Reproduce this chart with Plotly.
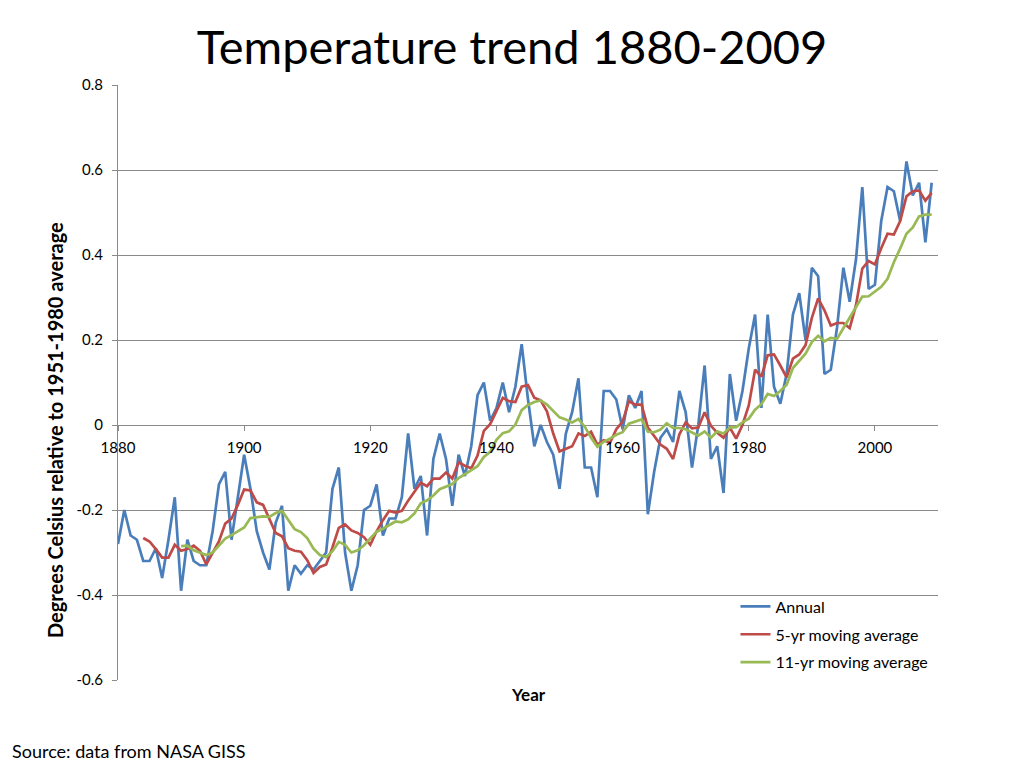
import plotly.graph_objects as go

# GISS annual anomalies, degrees C relative to 1951-1980
years = list(range(1880, 2010))
annual = [
    -0.28, -0.20, -0.26, -0.27, -0.32, -0.32, -0.29, -0.36, -0.27, -0.17,
    -0.39, -0.27, -0.32, -0.33, -0.33, -0.25, -0.14, -0.11, -0.27, -0.17,
    -0.07, -0.15, -0.25, -0.30, -0.34, -0.23, -0.19, -0.39, -0.33, -0.35,
    -0.33, -0.34, -0.32, -0.30, -0.15, -0.10, -0.30, -0.39, -0.33, -0.20,
    -0.19, -0.14, -0.26, -0.22, -0.22, -0.17, -0.02, -0.15, -0.12, -0.26,
    -0.08, -0.02, -0.08, -0.19, -0.07, -0.12, -0.05, 0.07, 0.10, 0.01,
    0.04, 0.10, 0.03, 0.09, 0.19, 0.06, -0.05, 0.00, -0.04, -0.07,
    -0.15, -0.02, 0.03, 0.11, -0.10, -0.10, -0.17, 0.08, 0.08, 0.06,
    -0.01, 0.07, 0.04, 0.08, -0.21, -0.11, -0.03, -0.01, -0.04, 0.08,
    0.03, -0.10, 0.00, 0.14, -0.08, -0.05, -0.16, 0.12, 0.01, 0.08,
    0.18, 0.26, 0.04, 0.26, 0.09, 0.05, 0.12, 0.26, 0.31, 0.20,
    0.37, 0.35, 0.12, 0.13, 0.23, 0.37, 0.29, 0.39, 0.56, 0.32,
    0.33, 0.48, 0.56, 0.55, 0.48, 0.62, 0.54, 0.57, 0.43, 0.57,
]

# 5-yr moving average, 1884-2009
ma5_years = list(range(1884, 2010))
ma5 = [
    -0.266, -0.274, -0.292, -0.312, -0.312, -0.282,
    -0.296, -0.292, -0.284, -0.296, -0.328, -0.300, -0.274, -0.232, -0.220, -0.188,
    -0.152, -0.154, -0.182, -0.188, -0.222, -0.254, -0.262, -0.290, -0.296, -0.298,
    -0.318, -0.348, -0.334, -0.328, -0.288, -0.242, -0.234, -0.248, -0.254, -0.264,
    -0.282, -0.250, -0.224, -0.202, -0.206, -0.202, -0.178, -0.156, -0.136, -0.144,
    -0.126, -0.126, -0.112, -0.126, -0.088, -0.096, -0.102, -0.072, -0.014, 0.002,
    0.034, 0.064, 0.056, 0.054, 0.090, 0.094, 0.064, 0.058, 0.032, -0.020,
    -0.062, -0.056, -0.050, -0.020, -0.026, -0.016, -0.046, -0.036, -0.042, -0.010,
    0.008, 0.056, 0.048, 0.048, -0.006, -0.026, -0.046, -0.056, -0.080, -0.022,
    0.006, -0.008, -0.006, 0.030, -0.002, -0.018, -0.030, -0.006, -0.032, 0.000,
    0.046, 0.130, 0.114, 0.164, 0.166, 0.140, 0.112, 0.156, 0.166, 0.188,
    0.252, 0.298, 0.270, 0.234, 0.240, 0.240, 0.228, 0.282, 0.368, 0.386,
    0.378, 0.416, 0.450, 0.448, 0.480, 0.538, 0.550, 0.552, 0.528, 0.546,
]

# 11-yr moving average, 1890-2009
ma11_years = list(range(1890, 2010))
ma11 = [
    -0.285, -0.284, -0.295, -0.301, -0.306, -0.300, -0.284, -0.267, -0.259, -0.250,
    -0.241, -0.219, -0.217, -0.215, -0.216, -0.207, -0.202, -0.225, -0.245, -0.252,
    -0.266, -0.291, -0.306, -0.311, -0.297, -0.275, -0.282, -0.300, -0.295, -0.283,
    -0.268, -0.251, -0.244, -0.235, -0.227, -0.229, -0.222, -0.208, -0.184, -0.177,
    -0.166, -0.151, -0.145, -0.139, -0.125, -0.116, -0.105, -0.097, -0.075, -0.063,
    -0.035, -0.019, -0.015, 0.001, 0.035, 0.047, 0.054, 0.058, 0.048, 0.033,
    0.018, 0.013, 0.006, 0.014, -0.004, -0.030, -0.051, -0.039, -0.032, -0.023,
    -0.017, 0.003, 0.008, 0.013, -0.016, -0.017, -0.011, 0.004, -0.007, -0.007,
    -0.010, -0.018, -0.025, -0.015, -0.030, -0.015, -0.020, -0.006, -0.005, 0.006,
    0.015, 0.036, 0.049, 0.073, 0.068, 0.080, 0.095, 0.134, 0.151, 0.168,
    0.195, 0.210, 0.197, 0.205, 0.203, 0.228, 0.250, 0.275, 0.302, 0.303,
    0.315, 0.325, 0.344, 0.383, 0.415, 0.450, 0.465, 0.491, 0.495, 0.495,
]

x_ticks = [1880, 1900, 1920, 1940, 1960, 1980, 2000]
y_ticks = [-0.6, -0.4, -0.2, 0, 0.2, 0.4, 0.6, 0.8]
y_tick_labels = ["-0.6", "-0.4", "-0.2", "0", "0.2", "0.4", "0.6", "0.8"]

FONT = "Lato"
GRID = "#8a8a8a"

fig = go.Figure()
fig.add_trace(go.Scatter(x=years, y=annual, mode="lines", name="Annual",
                         legendgroup="a", line=dict(color="#4a7ebb", width=2.7)))
fig.add_trace(go.Scatter(x=ma5_years, y=ma5, mode="lines", name="5-yr moving average",
                         legendgroup="b", line=dict(color="#be4b48", width=2.7)))
fig.add_trace(go.Scatter(x=ma11_years, y=ma11, mode="lines", name="11-yr moving average",
                         legendgroup="c", line=dict(color="#98b954", width=2.7)))

fig.update_layout(
    width=1024, height=768,
    margin=dict(l=118, r=86, t=85, b=88),
    paper_bgcolor="white", plot_bgcolor="white",
    font=dict(family=FONT, color="black", size=15),
    title=dict(text="Temperature trend 1880-2009", x=0.5, xref="container",
               y=1 - 48 / 768, yref="container", yanchor="middle", xanchor="center",
               font=dict(family=FONT, size=47, color="black")),
    showlegend=True,
    legend=dict(x=0.753, y=0.152, xanchor="left", yanchor="top",
                bgcolor="rgba(0,0,0,0)", font=dict(size=16, family=FONT),
                tracegroupgap=4, itemwidth=30),
    hovermode=False,
)

# x axis sits on the zero line, as in the Excel chart
fig.update_xaxes(
    range=[1880, 2010], anchor="free", position=0.6 / 1.4,
    tickvals=x_ticks, ticks="outside", ticklen=5, tickcolor=GRID, tickwidth=1,
    showgrid=False, showline=False, zeroline=False, ticklabelstandoff=4,
    tickfont=dict(size=15, family=FONT),
)
fig.update_yaxes(
    range=[-0.6, 0.8], tickvals=y_ticks, ticktext=y_tick_labels,
    ticks="outside", ticklen=5, tickcolor=GRID, tickwidth=1,
    showgrid=True, gridcolor=GRID, gridwidth=1, ticklabelstandoff=6,
    showline=True, linecolor=GRID, linewidth=1, zeroline=False,
    tickfont=dict(size=15, family=FONT),
)

fig.add_annotation(text="<b>Degrees Celsius relative to 1951-1980 average</b>",
                   xref="paper", yref="paper", x=-0.077, y=0.42, textangle=-90,
                   xanchor="center", yanchor="middle",
                   showarrow=False, font=dict(size=20, family=FONT))
fig.add_annotation(text="<b>Year</b>", xref="paper", yref="paper",
                   x=0.5, y=-0.024, yanchor="middle", showarrow=False,
                   font=dict(size=17, family=FONT))
fig.add_annotation(text="Source: data from NASA GISS", xref="paper", yref="paper",
                   x=-0.1317, y=-0.12, xanchor="left", yanchor="middle",
                   showarrow=False, font=dict(size=18, family=FONT))

fig.write_html("out.html", config={"displayModeBar": False},
               post_script="document.body.style.margin='0';")
